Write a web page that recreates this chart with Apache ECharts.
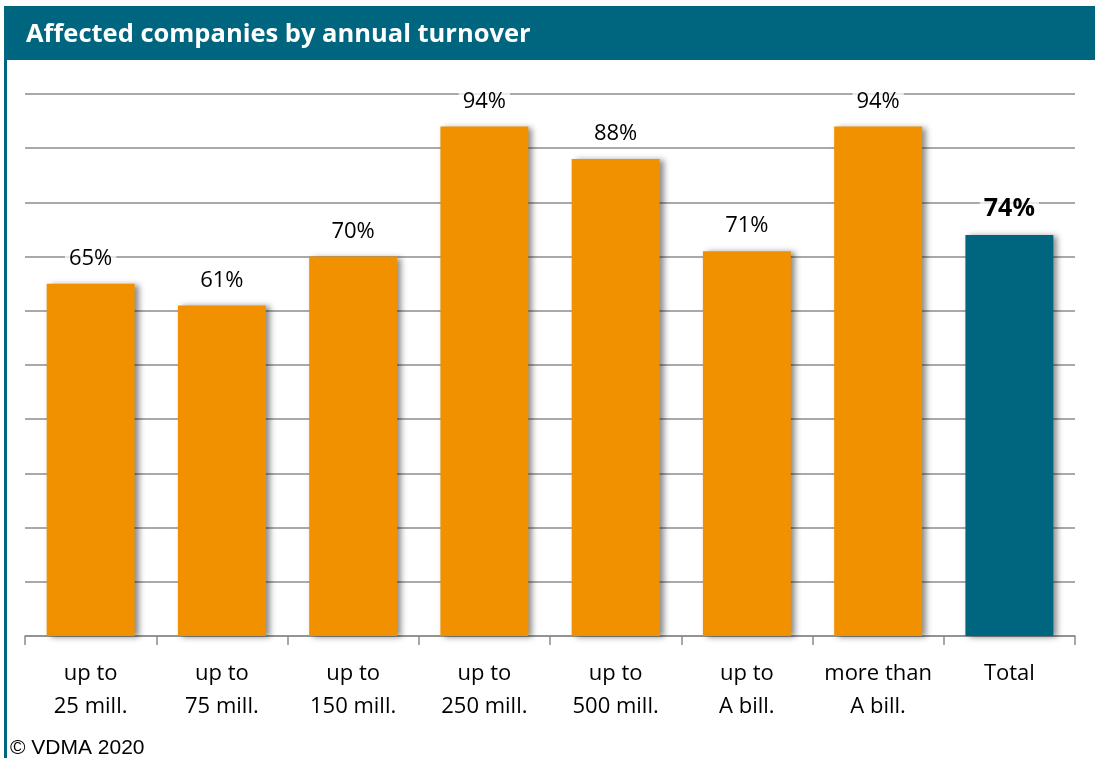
<!DOCTYPE html>
<html>
<head>
<meta charset="utf-8">
<script src="https://cdn.jsdelivr.net/npm/echarts@6/dist/echarts.min.js"></script>
<style>
  html, body { margin: 0; padding: 0; background: #fff; }
  #chart { width: 1095px; height: 758px; }
</style>
</head>
<body>
<div id="chart"></div>
<script>
// Share of affected companies per turnover class
const categories = ['up to\n25 mill.', 'up to\n75 mill.', 'up to\n150 mill.', 'up to\n250 mill.',
                    'up to\n500 mill.', 'up to\nA bill.', 'more than\nA bill.', 'Total'];
const shares = [65, 61, 70, 94, 88, 71, 94, 74];
const totalIndex = 7;

const ORANGE = '#F29100';
const TEAL = '#006680';

const chart = echarts.init(document.getElementById('chart'));

const barData = shares.map((v, i) => {
  const isTotal = i === totalIndex;
  return {
    value: v,
    itemStyle: { color: isTotal ? TEAL : ORANGE },
    label: isTotal
      ? { fontWeight: 'bold', fontSize: 25, distance: 14 }
      : {}
  };
});

chart.setOption({
  animation: false,
  title: {
    text: 'Affected companies by annual turnover',
    left: 21, top: 17,
    textStyle: { color: '#fff', fontFamily: 'Open Sans', fontWeight: 'bold', fontSize: 25.5 }
  },
  graphic: [
    { type: 'rect', z: -1, shape: { x: 5, y: 6, width: 1090, height: 54 }, style: { fill: TEAL } },
    { type: 'rect', z: -1, shape: { x: 4, y: 6, width: 3, height: 752 }, style: { fill: TEAL } },
    { type: 'text', left: 10, top: 738,
      style: { text: '© VDMA 2020', fill: '#000', font: '21px "Liberation Sans", Arial, sans-serif' } }
  ],
  grid: { left: 25, right: 20, top: 94, bottom: 122 },
  xAxis: {
    type: 'category',
    data: categories,
    axisLine: { lineStyle: { color: '#8c8c8c', width: 1.5 } },
    axisTick: { show: true, interval: 0, length: 9, lineStyle: { color: '#8c8c8c', width: 1.5 } },
    axisLabel: { interval: 0, color: '#000', fontFamily: 'Open Sans', fontSize: 22, lineHeight: 33, margin: 21 }
  },
  yAxis: {
    type: 'value', min: 0, max: 100, interval: 10,
    axisLine: { show: false }, axisTick: { show: false }, axisLabel: { show: false },
    splitLine: { lineStyle: { color: '#8c8c8c', width: 1.5 } }
  },
  series: [{
    type: 'bar',
    data: barData,
    barWidth: '67%',
    itemStyle: {
      shadowColor: 'rgba(0,0,0,0.45)', shadowBlur: 6, shadowOffsetX: 4, shadowOffsetY: 1
    },
    label: {
      show: true, position: 'top', distance: 14,
      formatter: '{c}%',
      color: '#000', fontFamily: 'Open Sans', fontSize: 22,
      backgroundColor: 'rgba(255,255,255,0.75)', padding: [0, 4]
    }
  }]
});
</script>
</body>
</html>
